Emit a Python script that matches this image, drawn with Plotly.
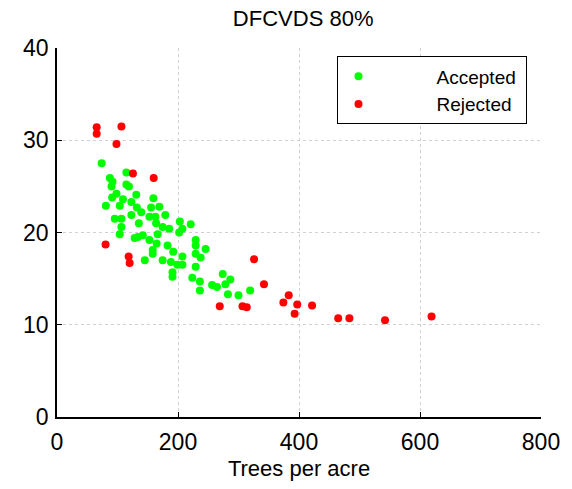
import plotly.graph_objects as go

# Accepted (green) points: trees per acre, value
acc_x = [73.8, 114.7, 87.4, 91.8, 90.1, 114.7, 118.9, 98.3, 91.1, 131.0,
         109.1, 122.9, 159.3, 80.8, 103.7, 132.0, 155.6, 169.2, 122.9, 95.5,
         106.5, 139.2, 152.8, 162.6, 179.0, 135.3, 106.5, 163.8, 174.6, 203.0,
         221.0, 185.5, 201.9, 103.7, 128.3, 141.8, 133.7, 152.8, 166.4, 164.7,
         229.2, 229.2, 182.7, 158.2, 158.2, 192.1, 207.3, 229.2, 145.1, 174.6,
         188.3, 199.1, 207.3, 229.2, 190.9, 190.9, 223.6, 236.2, 236.2, 245.6,
         237.4, 273.9, 286.5, 256.4, 264.5, 278.3, 282.5, 300.0, 319.2, 207.3]
acc_y = [27.5, 26.5, 25.9, 25.5, 25.0, 25.2, 25.0, 24.2, 23.8, 24.1,
         23.6, 23.3, 23.7, 22.9, 22.9, 22.7, 22.7, 22.8, 21.9, 21.5,
         21.5, 22.2, 21.7, 21.7, 21.9, 21.0, 20.6, 21.0, 20.6, 21.2,
         20.9, 20.4, 20.0, 19.8, 19.4, 19.7, 19.5, 19.2, 19.8, 18.8,
         19.2, 18.6, 18.6, 18.1, 17.7, 17.9, 17.4, 17.7, 17.0, 17.0,
         16.8, 16.5, 16.5, 16.3, 15.7, 15.2, 15.1, 14.7, 13.7, 18.2,
         17.3, 15.5, 14.9, 14.3, 14.1, 14.4, 13.3, 13.2, 13.7, 20.4]

# Rejected (red) points
rej_x = [65.6, 65.6, 106.5, 98.3, 125.5, 159.8, 80.3, 118.4, 120.1, 325.7,
         342.1, 306.6, 313.6, 383.0, 374.2, 397.1, 392.8, 421.6, 464.8, 483.3,
         542.2, 619.1, 269.0]
rej_y = [31.4, 30.7, 31.5, 29.6, 26.4, 25.9, 18.7, 17.4, 16.7, 17.1,
         14.4, 12.0, 11.9, 13.2, 12.4, 12.2, 11.2, 12.1, 10.7, 10.7,
         10.5, 10.9, 12.0]

x_ticks = [0, 200, 400, 600, 800]
y_ticks = [0, 10, 20, 30, 40]

FONT = "Liberation Sans, Arial, sans-serif"
pad = "\u00a0" * 11

fig = go.Figure()
fig.add_trace(go.Scatter(x=acc_x, y=acc_y, mode="markers", name=pad + "Accepted" + "\u00a0",
                         legendgroup="a",
                         marker=dict(color="#00ff00", size=8, line=dict(width=0))))
fig.add_trace(go.Scatter(x=rej_x, y=rej_y, mode="markers", name=pad + "Rejected",
                         legendgroup="r",
                         marker=dict(color="#ff0000", size=8, line=dict(width=0))))

axis_common = dict(
    showline=True, linecolor="black", linewidth=1.5, mirror=False,
    ticks="inside", ticklen=5, tickcolor="black", tickwidth=1,
    showgrid=True, gridcolor="#d0d0d0", griddash="dot", gridwidth=1,
    zeroline=False, tickfont=dict(size=23, color="black", family=FONT),
)

fig.update_layout(
    width=572, height=489,
    margin=dict(l=57, r=26, t=48, b=70),
    paper_bgcolor="white", plot_bgcolor="white",
    font=dict(family=FONT, color="black"),
    title=dict(text="DFCVDS 80%", x=0.53, xanchor="center",
               y=1 - 18 / 489, yanchor="middle", yref="container",
               font=dict(size=22, color="black", family=FONT)),
    xaxis=dict(range=[0, 800], tickvals=x_ticks, ticklabelstandoff=4,
               title=dict(text="Trees per acre", font=dict(size=22), standoff=6),
               **axis_common),
    yaxis=dict(range=[0, 40], tickvals=y_ticks, ticklabelstandoff=2,
               **axis_common),
    legend=dict(x=0.5795, y=0.977, xanchor="left", yanchor="top",
                bordercolor="black", borderwidth=1, bgcolor="white",
                font=dict(size=19, family=FONT, color="black"),
                tracegroupgap=0, itemsizing="trace"),
    showlegend=True,
)

fig.write_html("out.html")
